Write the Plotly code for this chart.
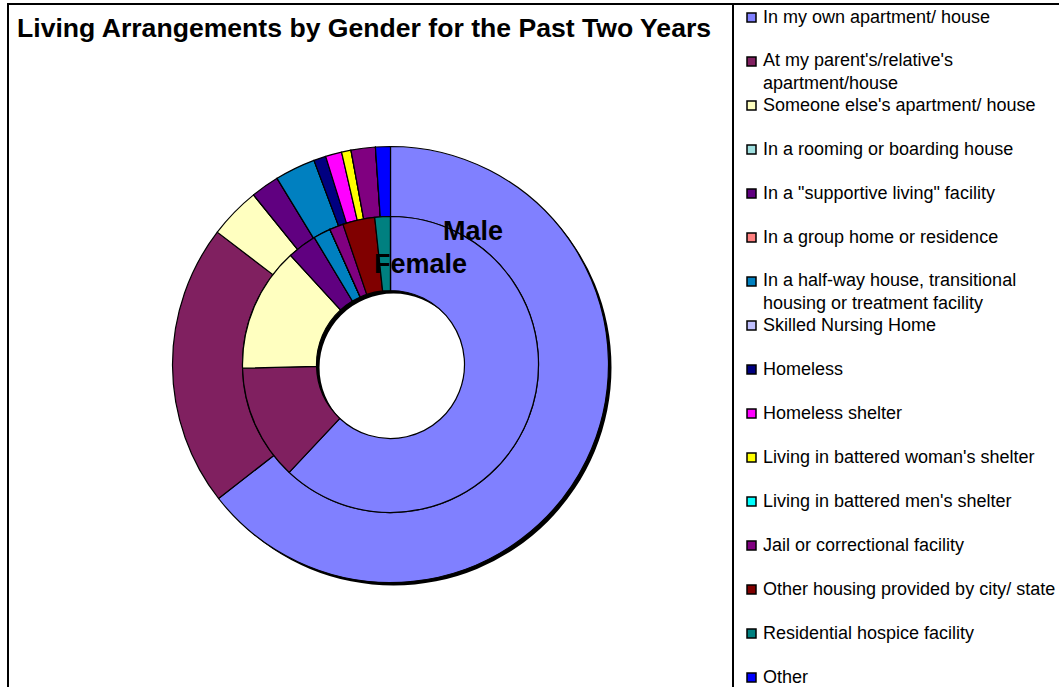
import plotly.graph_objects as go

# Housing categories (legend order) and the ring values in percent
categories = [
    "In my own apartment/ house",
    "At my parent's/relative's<br>apartment/house",
    "Someone else's apartment/ house",
    "In a rooming or boarding house",
    "In a \"supportive living\" facility",
    "In a group home or residence",
    "In a half-way house, transitional<br>housing or treatment facility",
    "Skilled Nursing Home",
    "Homeless",
    "Homeless shelter",
    "Living in battered woman's shelter",
    "Living in battered men's shelter",
    "Jail or correctional facility",
    "Other housing provided by city/ state",
    "Residential hospice facility",
    "Other",
]
male = [64.4, 20.9, 3.8, 0, 2.1, 0, 3.0, 0, 0.9, 1.2, 0.7, 0, 1.8, 0, 0, 1.1]
female = [62.0, 12.6, 13.6, 0, 3.2, 0, 1.9, 0, 0, 0, 0, 0, 1.5, 3.5, 1.7, 0]
colors = [
    "#8080FF", "#802060", "#FFFFC0", "#A0E0E0", "#600080", "#FF8080",
    "#0080C0", "#C0C0FF", "#000080", "#FF00FF", "#FFFF00", "#00FFFF",
    "#800080", "#800000", "#008080", "#0000FF",
]

W, H = 1059, 687
FONT = "Arial, Liberation Sans, sans-serif"

# geometry in pixels
CX, CY = 390.5, 364.5
R_OUT, R_MID, R_HOLE = 218, 148, 74
SHADOW = 3


def px_domain(cx, cy, r):
    return dict(x=[(cx - r) / W, (cx + r) / W], y=[1 - (cy + r) / H, 1 - (cy - r) / H])


fig = go.Figure()

# drop shadow under the doughnut
fig.add_trace(go.Pie(
    values=[1], marker=dict(colors=["black"], line=dict(width=0)),
    hole=R_HOLE / R_OUT, domain=px_domain(CX + SHADOW, CY + SHADOW, R_OUT),
    textinfo="none", hoverinfo="skip", sort=False, showlegend=False,
))

# outer ring: Male
fig.add_trace(go.Pie(
    labels=categories, values=male, name="Male",
    marker=dict(colors=colors, line=dict(color="black", width=1.2)),
    hole=R_MID / R_OUT, domain=px_domain(CX, CY, R_OUT),
    sort=False, direction="clockwise", rotation=0,
    textinfo="none", showlegend=False,
))

# inner ring: Female
fig.add_trace(go.Pie(
    labels=categories, values=female, name="Female",
    marker=dict(colors=colors, line=dict(color="black", width=1.2)),
    hole=R_HOLE / R_MID, domain=px_domain(CX, CY, R_MID),
    sort=False, direction="clockwise", rotation=0,
    textinfo="none", showlegend=False,
))

shapes = []
annotations = []

# frames: chart area and legend area
shapes.append(dict(type="rect", xref="paper", yref="paper",
                   x0=8 / W, x1=733 / W, y0=-0.05, y1=1 - 4 / H,
                   line=dict(color="black", width=2), fillcolor="rgba(0,0,0,0)"))
shapes.append(dict(type="rect", xref="paper", yref="paper",
                   x0=733 / W, x1=1.05, y0=-0.05, y1=1 - 4 / H,
                   line=dict(color="black", width=2), fillcolor="rgba(0,0,0,0)"))

# title
annotations.append(dict(
    text="<b>Living Arrangements by Gender for the Past Two Years</b>",
    x=15 / W, y=1 - 28 / H, xref="paper", yref="paper",
    xanchor="left", yanchor="middle", showarrow=False,
    font=dict(family=FONT, size=26.6, color="black"),
))

# ring names
annotations.append(dict(text="<b>Male</b>", x=473 / W, y=1 - 231 / H,
                        xref="paper", yref="paper", showarrow=False,
                        xanchor="center", yanchor="middle",
                        font=dict(family=FONT, size=27, color="black")))
annotations.append(dict(text="<b>Female</b>", x=420 / W, y=1 - 264 / H,
                        xref="paper", yref="paper", showarrow=False,
                        xanchor="center", yanchor="middle",
                        font=dict(family=FONT, size=27, color="black")))

# legend: swatch + label per category, 44 px per row
ROW0, STEP = 17, 44
for i, (lab, col) in enumerate(zip(categories, colors)):
    yc = ROW0 + STEP * i
    shapes.append(dict(type="rect", xref="paper", yref="paper",
                       x0=747 / W, x1=756 / W,
                       y0=1 - (yc + 5) / H, y1=1 - (yc - 4) / H,
                       line=dict(color="black", width=1.5), fillcolor=col))
    nlines = lab.count("<br>") + 1
    ymid = yc + (nlines - 1) * 21 / 2
    annotations.append(dict(text=lab, x=761 / W, y=1 - ymid / H,
                            xref="paper", yref="paper", showarrow=False,
                            xanchor="left", yanchor="middle", align="left",
                            font=dict(family=FONT, size=18, color="black")))

fig.update_layout(
    width=W, height=H,
    margin=dict(l=0, r=0, t=0, b=0),
    paper_bgcolor="white", plot_bgcolor="white",
    shapes=shapes, annotations=annotations,
    showlegend=False,
)

fig.write_html("out.html")
